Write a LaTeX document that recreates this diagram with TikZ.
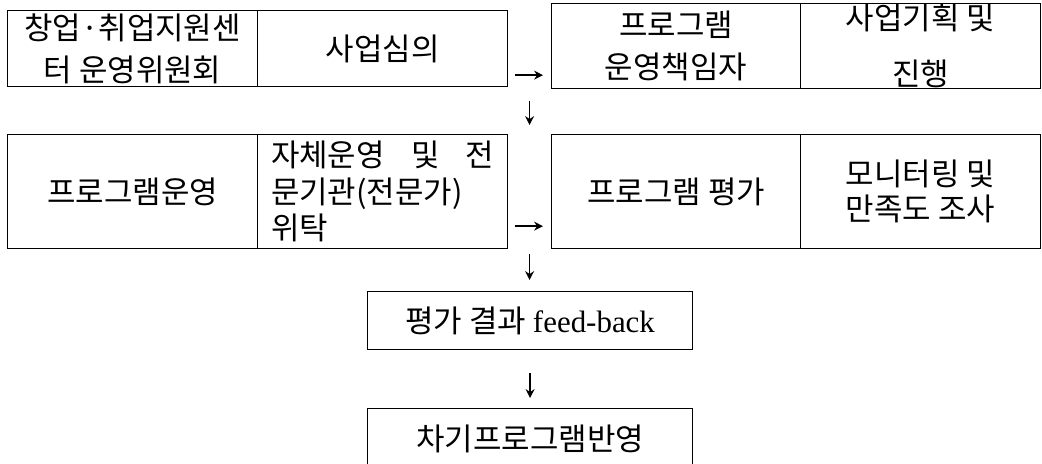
\documentclass[tikz,border=0pt]{standalone}
\usepackage{fontspec}
\setmainfont{Liberation Serif}
\newfontfamily\kr{Noto Sans CJK KR}
\usepackage{tikz}
\usetikzlibrary{arrows.meta, calc}

\begin{document}
\begin{tikzpicture}[x=0.025cm,y=-0.025cm]
        \tikzset{CellStyle/.style = {draw, line width=0.8pt, anchor=north west, inner sep=0, align=center, font=\kr\fontsize{22}{30}\selectfont},
                 ArrowStyle/.style = {line width=1.1pt, -{Stealth[length=0.22cm,width=0.22cm]}}}
    \useasboundingbox (0,0) rectangle (1042,464);

    \node[CellStyle, minimum width=6.25cm, minimum height=1.9cm] at (7,10) (A1) {창업·취업지원센\\터 운영위원회};
    \node[CellStyle, minimum width=6.25cm, minimum height=1.9cm] at (257,10) (A2) {사업심의};
    \node[CellStyle, minimum width=6.225cm, minimum height=2.125cm] at (551,3) (B1) {프로그램\\운영책임자};
    \node[CellStyle, minimum width=6cm, minimum height=2.125cm] at (800,3) (B2) {사업기획 및\\[10pt]진행};
    \node[CellStyle, minimum width=6.25cm, minimum height=2.85cm] at (7,134) (C1) {프로그램운영};
    \node[CellStyle, minimum width=6.25cm, minimum height=2.85cm, text width=5.575cm, align=left] at (257,134) (C2) {자체운영\hfill 및\hfill 전\\[-4pt]문기관(전문가)\\[-4pt]위탁};
    \node[CellStyle, minimum width=6.225cm, minimum height=2.85cm] at (551,134) (D1) {프로그램 평가};
    \node[CellStyle, minimum width=6cm, minimum height=2.85cm] at (800,134) (D2) {모니터링 및\\[-5pt]만족도 조사};
    \node[CellStyle, minimum width=8.125cm, minimum height=1.45cm] at (367,291) (E) {평가 결과 {\rmfamily feed-back}};
    \node[CellStyle, minimum width=8.125cm, minimum height=1.5cm] at (367,408) (F) {차기프로그램반영};

    \coordinate (G1) at ($(A2.south east)!.5!(B1.south west)$);
    \coordinate (G2) at ($(C2.north east)!.5!(D1.north west)$);
    \coordinate (G3) at ($(C2.south east)!.5!(D1.south west)$);

    \draw[ArrowStyle, shorten <=0.175cm, shorten >=0.2cm] ([yshift=0.3cm]A2.south east) -- ([yshift=0.3cm]A2.south east -| B1.west);
    \draw[ArrowStyle, shorten <=0.325cm, shorten >=0.225cm] (G1) -- (G1 |- G2);
    \draw[ArrowStyle, shorten <=0.175cm, shorten >=0.2cm] ([yshift=0.575cm]C2.south east) -- ([yshift=0.575cm]C2.south east -| D1.west);
    \draw[ArrowStyle, shorten <=0.125cm, shorten >=0.275cm] (G3) -- (G3 |- E.north);
    \draw[ArrowStyle, shorten <=0.575cm, shorten >=0.25cm] (E) -- (F);
\end{tikzpicture}
\end{document}
